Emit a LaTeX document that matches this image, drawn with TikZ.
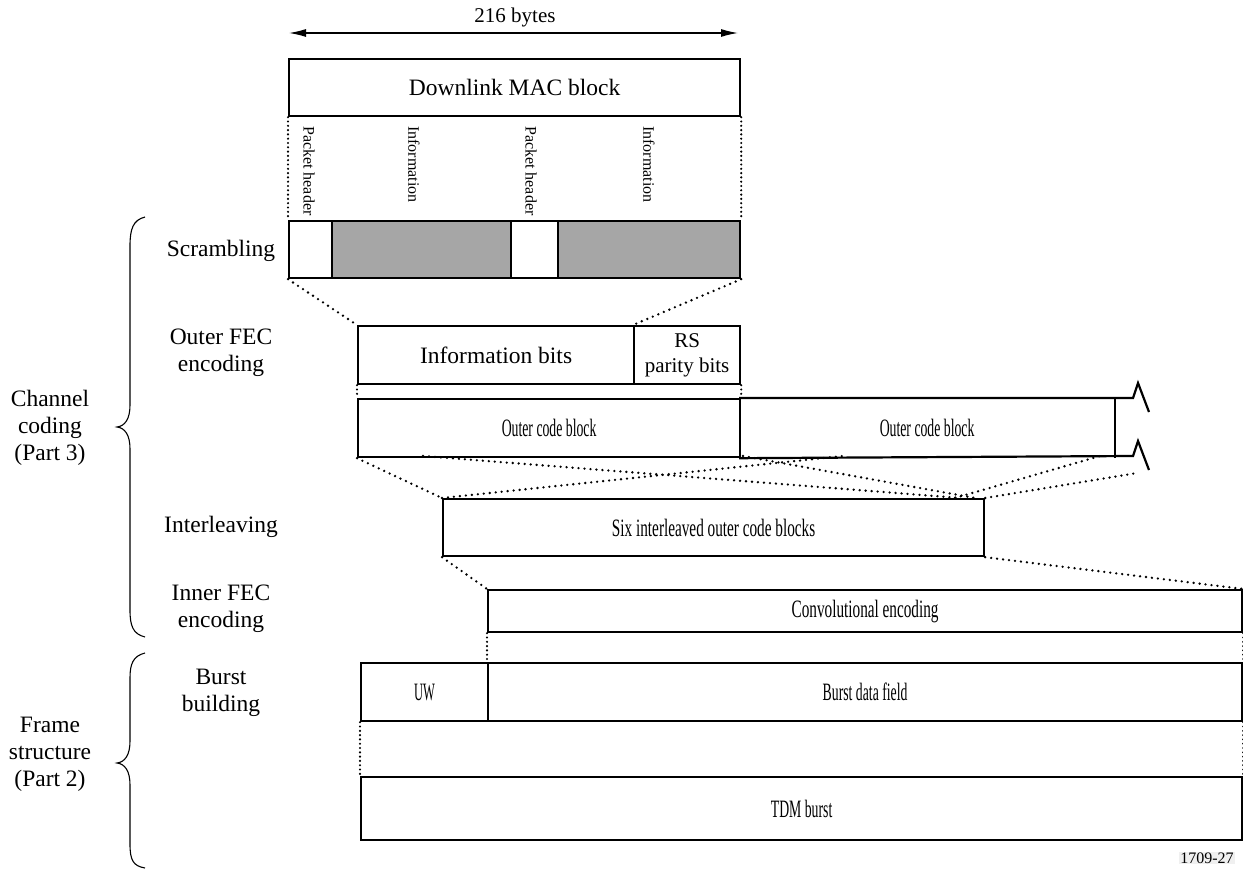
\documentclass[tikz,border=0pt]{standalone}
\usepackage{fontspec}
\setmainfont{Liberation Serif}
\usetikzlibrary{arrows.meta}
\definecolor{scrgrey}{HTML}{A6A6A6}
\begin{document}
\begin{tikzpicture}[x=1pt,y=-1pt,
  box/.style={draw, line width=2.2pt, inner sep=0pt, anchor=north west,
    font=\fontsize{23.5}{27}\selectfont},
  nfont/.style={font=\fontsize{25}{28}\selectfont},
  dotline/.style={line width=2.6pt, dash pattern=on 0pt off 6pt, line cap=round},
  dotv/.style={line width=2.4pt, dash pattern=on 0pt off 4.3pt, line cap=round},
  lbl/.style={align=center, inner sep=0pt, font=\fontsize{23.5}{27}\selectfont},
  vlbl/.style={rotate=-90, anchor=west, inner sep=0pt, font=\fontsize{16}{18}\selectfont},
  bracepath/.style={line width=1.1pt}]
\useasboundingbox (0,0) rectangle (1243,869);

% 216 bytes
\coordinate (al) at (289,33);
\coordinate (ar) at (738,33);
\draw[line width=1.3pt, {Latex[length=17pt,width=8pt]}-{Latex[length=17pt,width=8pt]}] (al) -- (ar);
\node[lbl, font=\fontsize{21}{24}\selectfont] (bytes) at (515,17) {216 bytes};

% MAC block
\node[box, minimum width=451pt, minimum height=57pt] (mac) at (288,58) {Downlink MAC block};

% rotated labels
\node[vlbl] (ph1) at (309,126) {Packet header};
\node[vlbl] (in1) at (414,126) {Information};
\node[vlbl] (ph2) at (531,126) {Packet header};
\node[vlbl] (in2) at (649,126) {Information};

% scrambling row
\node[box, minimum width=43pt, minimum height=57pt] (s1) at (288,220) {};
\node[box, fill=scrgrey, minimum width=179pt, minimum height=57pt] (s2) at (331,220) {};
\node[box, minimum width=47pt, minimum height=57pt] (s3) at (510,220) {};
\node[box, fill=scrgrey, minimum width=182pt, minimum height=57pt] (s4) at (557,220) {};

% outer FEC
\node[box, minimum width=276pt, minimum height=58pt] (info) at (357,325) {Information bits};
\node[box, minimum width=106pt, minimum height=58pt, align=center,
  font=\fontsize{21}{25}\selectfont] (rs) at (633,325) {RS\\parity bits};

% outer code blocks
\node[box, nfont, minimum width=382pt, minimum height=58pt] (ocb1) at (357,398) {\scalebox{0.55}[1]{Outer code block}};
\node[box, nfont, draw=none, minimum width=374pt, minimum height=58pt] (ocb2) at (739,398) {\scalebox{0.55}[1]{Outer code block}};
\coordinate (zt) at (1133,398);
\coordinate (zb) at (1133,456);
\draw[line width=2.2pt] (ocb2.north west) -- (zt) -- ++(5,-15) -- ++(11,29);
\draw[line width=2.2pt] (ocb2.south west) -- (zb) -- ++(5,-15) -- ++(11,29);
\draw[line width=1.6pt] (ocb2.north east) -- (ocb2.south east);

% interleaving
\node[box, nfont, minimum width=541pt, minimum height=57pt] (il) at (442,498) {\scalebox{0.61}[1]{Six interleaved outer code blocks}};

% convolutional
\node[box, nfont, minimum width=754pt, minimum height=42pt] (conv) at (487,589) {\scalebox{0.61}[1]{Convolutional encoding}};

% burst
\node[box, nfont, minimum width=127pt, minimum height=58pt] (uw) at (360,662) {\scalebox{0.5}[1]{UW}};
\node[box, nfont, minimum width=754pt, minimum height=58pt] (bdf) at (487,662) {\scalebox{0.55}[1]{Burst data field}};

% TDM
\node[box, nfont, minimum width=881pt, minimum height=63pt] (tdm) at (360,776) {\scalebox{0.55}[1]{TDM burst}};

% dotted connectors
\draw[dotv] (mac.south west) -- (s1.north west);
\draw[dotv] (mac.south east) -- (s4.north east);
\draw[dotline] (s1.south west) -- (info.north west);
\draw[dotline] (s4.south east) -- (rs.north west);
\draw[dotv] (info.south west) -- (ocb1.north west);
\draw[dotv] (rs.south east) -- (ocb1.north east);

\coordinate (a1) at (423,456);
\coordinate (a2) at (843,456);
\coordinate (a3) at (743,456);
\coordinate (a4) at (1100,456);
\coordinate (a5) at (1137,473);
\coordinate (b1) at (960,498);
\coordinate (b2) at (975,498);
\coordinate (b3) at (955,498);
\draw[dotline] (ocb1.south west) -- (il.north west);
\draw[dotline] (il.north west) -- (a2);
\draw[dotline] (a1) -- (b1);
\draw[dotline] (a3) -- (b2);
\draw[dotline] (b3) -- (a4);
\draw[dotline] (il.north east) -- (a5);

\draw[dotline] (il.south west) -- (conv.north west);
\draw[dotline] (il.south east) -- (conv.north east);
\draw[dotv] (conv.south west) -- (bdf.north west);
\draw[dotv] (conv.south east) -- (bdf.north east);
\draw[dotv] (uw.south west) -- (tdm.north west);
\draw[dotv] (bdf.south east) -- (tdm.north east);

% step labels
\node[lbl] (lscr) at (221,251) {Scrambling};
\node[lbl] (lofec) at (221,353) {Outer FEC\\encoding};
\node[lbl] (lint) at (221,527) {Interleaving};
\node[lbl] (lifec) at (221,609) {Inner FEC\\encoding};
\node[lbl] (lbb) at (221,693) {Burst\\building};

% group labels
\node[lbl] (lcc) at (50,428) {Channel\\coding\\(Part 3)};
\node[lbl] (lfs) at (50,754) {Frame\\structure\\(Part 2)};

% braces
\draw[bracepath] (145,217) .. controls (133,220) and (130,229) .. (130,246) -- (130,405)
  .. controls (130,419) and (125,426) .. (117,427)
  .. controls (125,428) and (130,435) .. (130,449) -- (130,610)
  .. controls (130,626) and (133,634) .. (145,637);
\draw[bracepath] (145,653) .. controls (133,656) and (130,664) .. (130,678) -- (130,741)
  .. controls (130,755) and (125,762) .. (117,763)
  .. controls (125,764) and (130,771) .. (130,785) -- (130,844)
  .. controls (130,860) and (133,866) .. (145,868);

% figure number
\node[fill=gray!12, inner sep=1pt, font=\fontsize{16}{18}\selectfont] (fig) at (1207,858) {1709-27};
\end{tikzpicture}
\end{document}
